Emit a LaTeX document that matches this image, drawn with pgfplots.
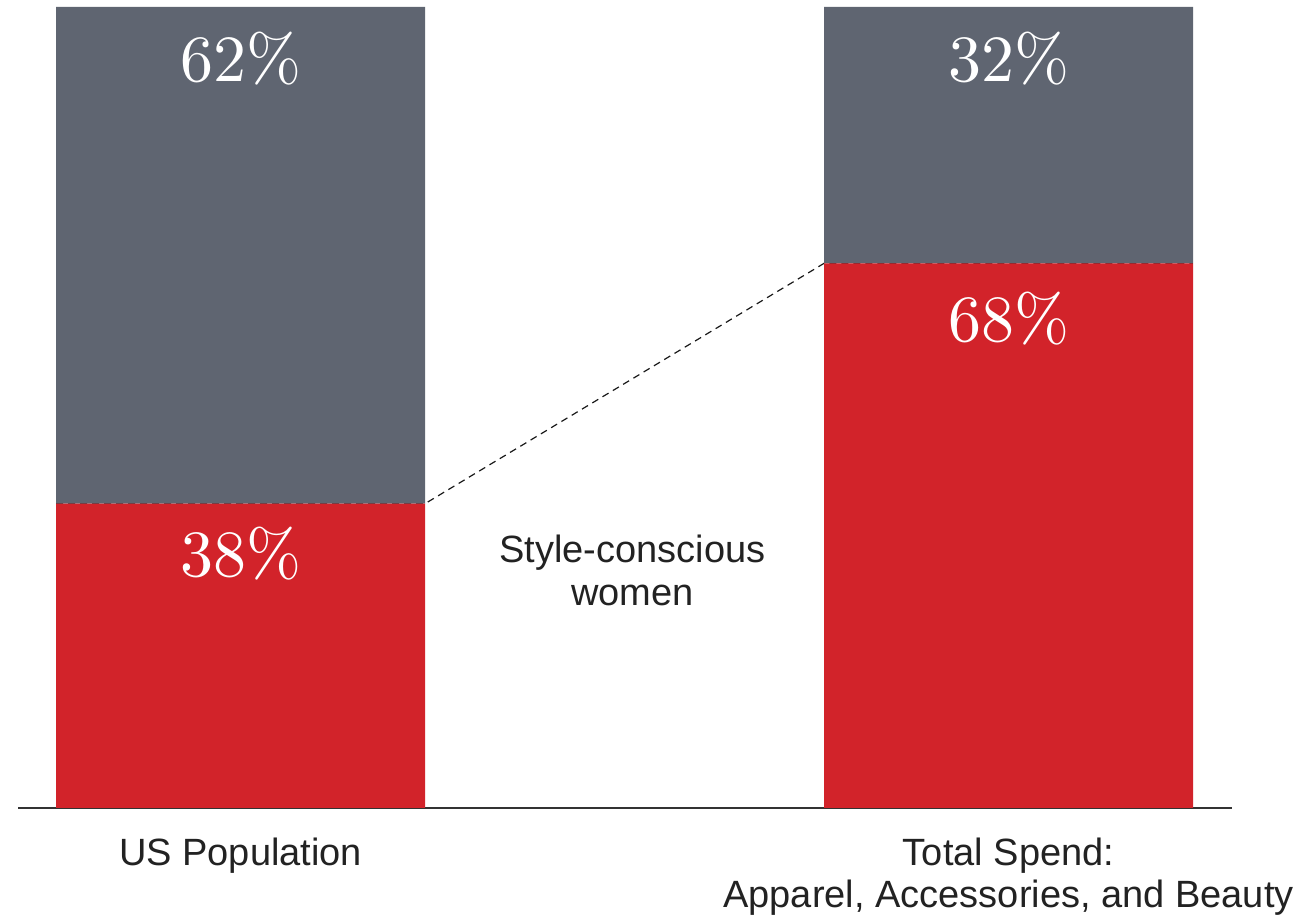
\documentclass[border=0pt]{standalone}
\usepackage{pgfplots}
\pgfplotsset{compat=1.18}
\usepackage{fontspec}
\newfontfamily\labelsans{Liberation Sans}
\newfontfamily\pctfont{lmroman10-regular.otf}
\definecolor{barred}{HTML}{D2232A}
\definecolor{bargray}{HTML}{5F6571}
\definecolor{txt}{HTML}{222222}
\begin{document}
\begin{tikzpicture}
\begin{axis}[
  scale only axis, width=607pt, height=400.5pt,
  xmin=-0.29, xmax=1.291, ymin=0, ymax=100,
  ybar stacked, bar width=184.5pt,
  axis x line=bottom, axis y line=none,
  axis line style={-, line width=1pt, color=black!80},
  xtick=\empty, ytick=\empty,
  clip=false,
]
\addplot[fill=barred, draw=none] coordinates {(0,38) (1,68)};
\addplot[fill=bargray, draw=none] coordinates {(0,62) (1,32)};
\addplot[stack plots=false, sharp plot, no markers, draw=black!90, line width=0.6pt, dash pattern=on 3.5pt off 2.5pt]
  coordinates {(-0.2402,38) (0.2402,38) (0.7598,68) (1.2402,68)};
\coordinate (bl) at (rel axis cs:0,0);
\coordinate (tr) at (rel axis cs:1,1);
\coordinate (a100) at (axis cs:0,100);
\coordinate (a38) at (axis cs:0,38);
\coordinate (b100) at (axis cs:1,100);
\coordinate (b68) at (axis cs:1,68);
\coordinate (mid) at (axis cs:0.51,30.7);
\coordinate (a0) at (axis cs:0,0);
\coordinate (b0) at (axis cs:1,0);
\end{axis}
\begin{scope}[every node/.style={anchor=base, text=white, font=\pctfont\fontsize{33}{33}\selectfont}]
\node[yshift=-37.5pt] at (a100) {62\%};
\node[yshift=-36.5pt] at (a38) {38\%};
\node[yshift=-37.5pt] at (b100) {32\%};
\node[yshift=-39pt] at (b68) {68\%};
\end{scope}
\begin{scope}[every node/.style={anchor=base, text=txt, font=\labelsans\fontsize{19}{21}\selectfont}]
\node at (mid) {Style-conscious};
\node[yshift=-21.5pt] at (mid) {women};
\node[yshift=-29pt] at (a0) {US Population};
\node[yshift=-29pt] at (b0) {Total Spend:};
\node[yshift=-50pt] at (b0) {Apparel, Accessories, and Beauty};
\end{scope}
\pgfresetboundingbox
\path[use as bounding box] ([xshift=-9pt,yshift=-54pt]bl) rectangle ([xshift=33pt,yshift=3.5pt]tr);
\end{tikzpicture}
\end{document}
